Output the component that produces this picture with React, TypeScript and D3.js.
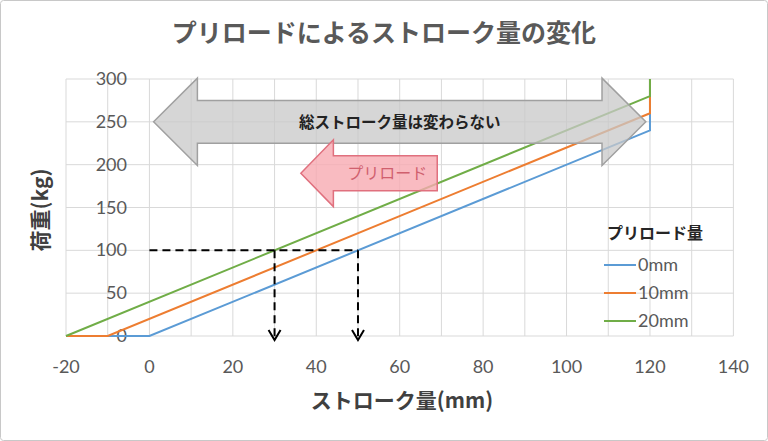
import React, { useEffect, useRef } from 'react';
import * as d3 from 'd3';

// stroke (mm) / load (kg) for each preload setting
const seriesNames = ['0mm', '10mm', '20mm'];
const stroke0 = [-20, 0, 120, 120];
const load0 = [0, 0, 240, 300];
const stroke10 = [-20, -10, 120, 120];
const load10 = [0, 0, 260, 300];
const stroke20 = [-20, 120, 120];
const load20 = [0, 280, 300];
const colors = ['#5b9bd5', '#ed7d31', '#70ad47'];

const xTicks = [-20, 0, 20, 40, 60, 80, 100, 120, 140];
const yTicks = [0, 50, 100, 150, 200, 250, 300];

const guideLoad = 100;
const guideStrokes = [30, 50];

const W = 768, H = 441;
const JP = '"Noto Sans CJK JP", sans-serif';
const NUM = 'Lato, "Open Sans", sans-serif';

export default function App() {
  const ref = useRef<SVGSVGElement>(null);

  useEffect(() => {
    const svg = d3.select(ref.current);
    svg.selectAll('*').remove();

    const x = d3.scaleLinear().domain([-20, 140]).range([66, 733.4]);
    const y = d3.scaleLinear().domain([0, 300]).range([336, 79]);

    svg.append('rect').attr('x', 0.5).attr('y', 0.5).attr('width', W - 1).attr('height', H - 1)
      .attr('rx', 3).attr('fill', '#fff').attr('stroke', '#c8c8c8');

    // title
    svg.append('text').attr('x', 384).attr('y', 42).attr('text-anchor', 'middle')
      .attr('font-family', JP).attr('font-weight', 'bold').attr('font-size', 25)
      .attr('fill', '#595959').text('プリロードによるストローク量の変化');

    // grid
    const g = svg.append('g');
    g.selectAll('line.vg').data(d3.range(-20, 141, 10)).enter().append('line')
      .attr('x1', d => x(d)).attr('x2', d => x(d)).attr('y1', y(0)).attr('y2', y(300))
      .attr('stroke', '#d9d9d9').attr('stroke-width', 1);
    g.selectAll('line.hg').data(yTicks).enter().append('line')
      .attr('x1', x(-20)).attr('x2', x(140)).attr('y1', d => y(d)).attr('y2', d => y(d))
      .attr('stroke', '#d9d9d9').attr('stroke-width', 1);

    // y tick labels sit beside the axis at x=0
    g.selectAll('text.yt').data(yTicks).enter().append('text')
      .attr('x', 127).attr('y', d => y(d) + 6).attr('text-anchor', 'end')
      .attr('font-family', NUM).attr('font-size', 18).attr('fill', '#595959')
      .text(d => d);
    g.selectAll('text.xt').data(xTicks).enter().append('text')
      .attr('x', d => x(d)).attr('y', 373).attr('text-anchor', 'middle')
      .attr('font-family', NUM).attr('font-size', 18).attr('fill', '#595959')
      .text(d => d);

    // axis titles
    svg.append('text').attr('x', 402).attr('y', 408).attr('text-anchor', 'middle')
      .attr('font-family', JP).attr('font-weight', 'bold').attr('font-size', 21)
      .attr('fill', '#404040').text('ストローク量(mm)');
    svg.append('text').attr('transform', 'translate(48,210) rotate(-90)').attr('text-anchor', 'middle')
      .attr('font-family', JP).attr('font-weight', 'bold').attr('font-size', 21)
      .attr('fill', '#404040').text('荷重(kg)');

    // series
    const series = [
      d3.zip(stroke0, load0),
      d3.zip(stroke10, load10),
      d3.zip(stroke20, load20),
    ];
    const line = d3.line<number[]>().x(d => x(d[0])).y(d => y(d[1]));
    series.forEach((s, i) => {
      svg.append('path').attr('d', line(s)).attr('fill', 'none')
        .attr('stroke', colors[i]).attr('stroke-width', 2);
    });

    // dashed guides
    const dash = svg.append('g').attr('stroke', '#000').attr('stroke-width', 2)
      .attr('stroke-dasharray', '8,5').attr('fill', 'none');
    dash.append('line').attr('x1', x(0)).attr('x2', x(d3.max(guideStrokes)!))
      .attr('y1', y(guideLoad)).attr('y2', y(guideLoad));
    guideStrokes.forEach(s => {
      dash.append('line').attr('x1', x(s)).attr('x2', x(s))
        .attr('y1', y(guideLoad)).attr('y2', y(0) + 2);
      svg.append('path')
        .attr('d', `M${x(s) - 6},${y(0) - 6} L${x(s)},${y(0) + 4} L${x(s) + 6},${y(0) - 6}`)
        .attr('fill', 'none').attr('stroke', '#000').attr('stroke-width', 2);
    });

    // block arrows
    const px = (v: number) => x(v) - x(0);
    const py = (v: number) => y(0) - y(v);
    const gx0 = x(1), gx1 = x(119), gy = y(250);
    const gh = px(10.5), ghh = py(51), gs = py(25);
    svg.append('path')
      .attr('d', `M${gx0},${gy} L${gx0 + gh},${gy - ghh} L${gx0 + gh},${gy - gs} L${gx1 - gh},${gy - gs} L${gx1 - gh},${gy - ghh} L${gx1},${gy} L${gx1 - gh},${gy + ghh} L${gx1 - gh},${gy + gs} L${gx0 + gh},${gy + gs} L${gx0 + gh},${gy + ghh} Z`)
      .attr('fill', '#c8c8c8').attr('fill-opacity', 0.75).attr('stroke', '#a0a0a0').attr('stroke-width', 1.5);
    svg.append('text').attr('x', (gx0 + gx1) / 2).attr('y', gy + 6).attr('text-anchor', 'middle')
      .attr('font-family', JP).attr('font-weight', 'bold').attr('font-size', 15.5)
      .attr('fill', '#222').text('総ストローク量は変わらない');

    const px0 = x(36.3), px1 = x(69), pyc = y(190);
    const ph = px(7.8), phh = py(39), ps = py(20.5);
    svg.append('path')
      .attr('d', `M${px0},${pyc} L${px0 + ph},${pyc - phh} L${px0 + ph},${pyc - ps} L${px1},${pyc - ps} L${px1},${pyc + ps} L${px0 + ph},${pyc + ps} L${px0 + ph},${pyc + phh} Z`)
      .attr('fill', '#f7aab2').attr('fill-opacity', 0.8).attr('stroke', '#e0707e').attr('stroke-width', 1.5);
    svg.append('text').attr('x', (px0 + ph + px1) / 2 + 2).attr('y', pyc + 6).attr('text-anchor', 'middle')
      .attr('font-family', JP).attr('font-size', 16).attr('fill', '#d0606e').text('プリロード');

    // legend
    const lg = svg.append('g');
    lg.append('text').attr('x', 655).attr('y', 239).attr('text-anchor', 'middle')
      .attr('font-family', JP).attr('font-weight', 'bold').attr('font-size', 16)
      .attr('fill', '#262626').text('プリロード量');
    seriesNames.forEach((n, i) => {
      const ly = 265 + i * 28;
      lg.append('line').attr('x1', 604).attr('x2', 636).attr('y1', ly).attr('y2', ly)
        .attr('stroke', colors[i]).attr('stroke-width', 2);
      lg.append('text').attr('x', 638).attr('y', ly + 6).attr('font-family', NUM)
        .attr('font-size', 18).attr('fill', '#595959').text(n);
    });
  }, []);

  return (
    <svg ref={ref} width={W} height={H}
      style={{ position: 'absolute', left: 0, top: 0, background: '#fff' }} />
  );
}
